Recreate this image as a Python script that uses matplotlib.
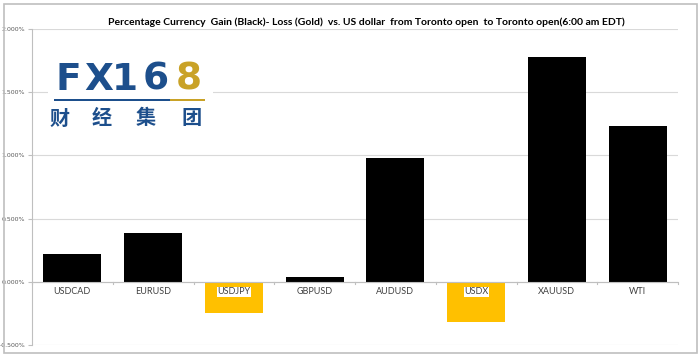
import matplotlib.pyplot as plt
from matplotlib.patches import Rectangle

pairs = ["USDCAD", "EURUSD", "USDJPY", "GBPUSD", "AUDUSD", "USDX", "XAUUSD", "WTI"]
change = [0.22, 0.387, -0.245, 0.04, 0.98, -0.316, 1.78, 1.233]
yticks = [-0.5, 0.0, 0.5, 1.0, 1.5, 2.0]

gold = "#FFC000"
colors = ["black" if v >= 0 else gold for v in change]

fig = plt.figure(figsize=(7, 3.57), dpi=100)
fig.patches.append(Rectangle((0.005, 0.012), 0.99, 0.978, transform=fig.transFigure,
                             fill=False, edgecolor="#BFBFBF", linewidth=1.2))
ax = fig.add_axes([32/700, 12/357, 646/700, 316/357])

x = range(len(pairs))
ax.bar(x, change, width=0.72, color=colors, zorder=3)
ax.set_xlim(-0.5, len(pairs) - 0.5)
ax.set_ylim(-0.5, 2.0)
ax.set_yticks(yticks)
ax.set_yticklabels([f"{t:.3f}%" for t in yticks], fontsize=4.5, color="#595959")
ax.tick_params(axis="y", length=3, color="#BFBFBF", pad=2)
ax.grid(axis="y", color="#D9D9D9", linewidth=0.8, zorder=0)
ax.set_xticks([])
for s in ["top", "right", "bottom"]:
    ax.spines[s].set_visible(False)
ax.spines["left"].set_color("#BFBFBF")
ax.axhline(0, color="#BFBFBF", linewidth=0.8, zorder=4)
for b in range(len(pairs) + 1):
    ax.plot([b - 0.5, b - 0.5], [0, -0.02], color="#BFBFBF", linewidth=0.8, zorder=4, clip_on=False)

for i, (p, v) in enumerate(zip(pairs, change)):
    bbox = dict(facecolor="white", edgecolor="none", pad=0.3) if v < 0 else None
    ax.text(i, -0.045, p, ha="center", va="top", fontsize=6.5, color="#404040",
            bbox=bbox, zorder=5, family="Lato")

fig.text(0.523, 0.938, "Percentage Currency  Gain (Black)- Loss (Gold)  vs. US dollar  from Toronto open  to Toronto open(6:00 am EDT)",
         ha="center", va="center", fontsize=7.5, fontweight="bold", family="Lato")

# logo
blue = "#1D4F8C"
lg = "#C9A227"
fig.patches.append(Rectangle((48/700, 1 - 135/357), 165/700, 75/357, transform=fig.transFigure,
                             facecolor="white", edgecolor="none", zorder=1))
for ch, cx, c in zip("FX168", [68, 99, 125, 156, 189], [blue, blue, blue, blue, lg]):
    fig.text(cx/700, 1 - 80/357, ch, color=c, fontsize=27, fontweight="bold",
             va="center", ha="center", family="DejaVu Sans", zorder=2)
fig.patches.append(Rectangle((54/700, 1 - 101/357), 116/700, 2.5/357, transform=fig.transFigure,
                             facecolor=blue, edgecolor="none", zorder=2))
fig.patches.append(Rectangle((170/700, 1 - 101/357), 35/700, 2.5/357, transform=fig.transFigure,
                             facecolor=lg, edgecolor="none", zorder=2))
for ch, cx in zip("财经集团", [60, 102, 146, 192]):
    fig.text(cx/700, 1 - 118/357, ch, color=blue, fontsize=14.5, fontweight="bold",
             va="center", ha="center", family="Noto Sans CJK SC", zorder=2)

fig.savefig("out.png", dpi=100)
